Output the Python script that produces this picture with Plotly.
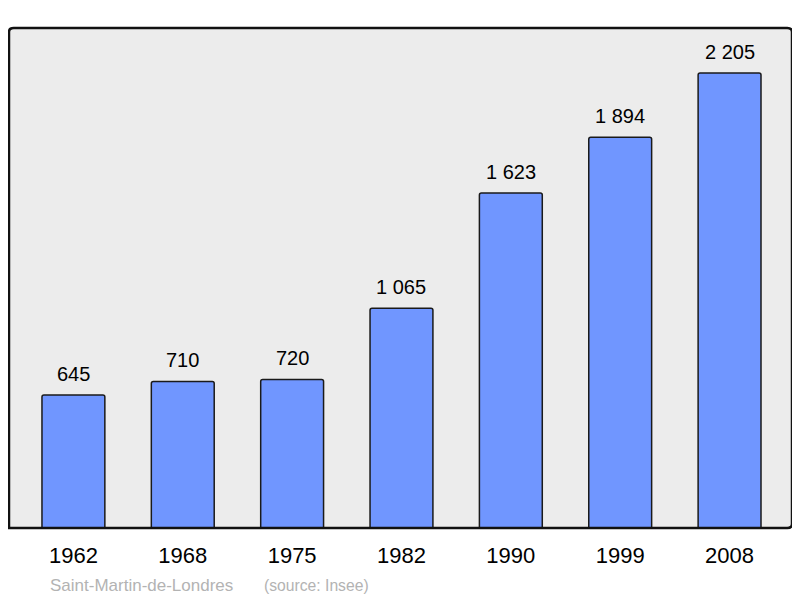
import plotly.graph_objects as go

years = ["1962", "1968", "1975", "1982", "1990", "1999", "2008"]
population = [645, 710, 720, 1065, 1623, 1894, 2205]
value_labels = ["645", "710", "720", "1 065", "1 623", "1 894", "2 205"]

FONT = "Liberation Sans, Arial, sans-serif"

fig = go.Figure()
fig.add_trace(go.Bar(
    x=years, y=population, width=0.575,
    marker=dict(color="#7096ff", line=dict(color="#1a1a1a", width=1.5), cornerradius=2),
    hoverinfo="skip",
))

for i, (v, lab) in enumerate(zip(population, value_labels)):
    fig.add_annotation(x=i, y=v, text=lab, showarrow=False, yshift=21,
                       yanchor="middle", font=dict(size=20, color="#000000", family=FONT))

fig.add_annotation(xref="paper", yref="paper", x=0.0498, y=-0.114, xanchor="left", yanchor="middle",
                   text="Saint-Martin-de-Londres", showarrow=False,
                   font=dict(size=17, color="#b3b3b3", family=FONT))
fig.add_annotation(xref="paper", yref="paper", x=0.3232, y=-0.114, xanchor="left", yanchor="middle",
                   text="(source: Insee)", showarrow=False,
                   font=dict(size=15.7, color="#b3b3b3", family=FONT))

# rounded frame
fig.add_shape(type="path", xref="paper", yref="paper",
              path="M 0,0 L 0,0.992 Q 0,1 0.006,1 L 0.994,1 Q 1,1 1,0.992 L 1,0.008 Q 1,0 0.994,0 Z",
              line=dict(color="#111111", width=2.5), layer="above")

fig.update_layout(
    width=792, height=590,
    margin=dict(l=1, r=8, t=20, b=70),
    paper_bgcolor="#ffffff", plot_bgcolor="#ececec",
    showlegend=False,
    font=dict(family=FONT, color="#000000"),
    xaxis=dict(type="category", range=[-0.589, 6.571], showgrid=False, zeroline=False,
               showline=False, ticks="outside", ticklen=8, tickcolor="rgba(0,0,0,0)",
               tickfont=dict(size=22, color="#000000")),
    yaxis=dict(range=[0, 2423], showgrid=False, zeroline=False, showline=False,
               showticklabels=False, ticks=""),
)

fig.write_html("out.html")
